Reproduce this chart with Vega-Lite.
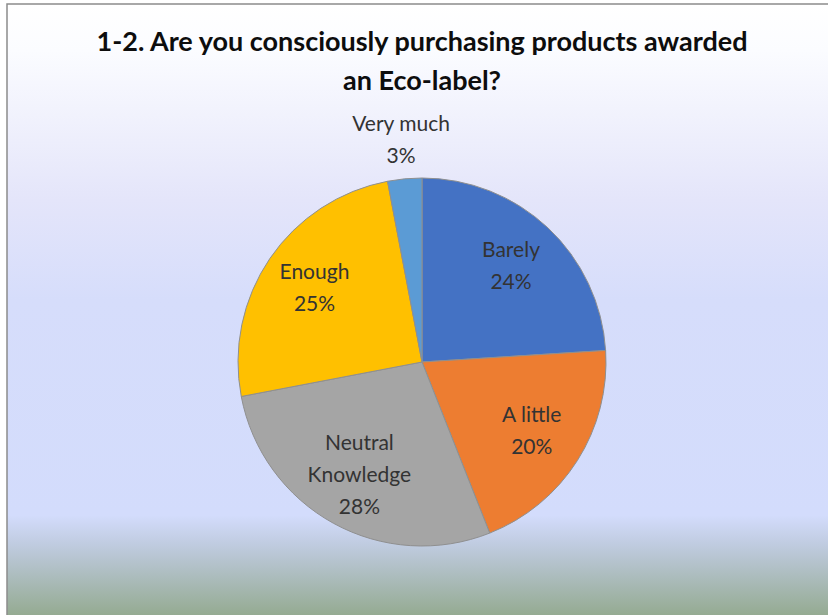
{
  "$schema": "https://vega.github.io/schema/vega-lite/v6.json",
  "autosize": "none",
  "width": 830,
  "height": 716,
  "padding": {"left": 7, "top": 4, "right": -9, "bottom": -105},
  "background": "#ffffff",
  "title": {
    "text": ["1-2. Are you consciously purchasing products awarded", "an Eco-label?"],
    "offset": -92,
    "font": "Lato",
    "fontSize": 27,
    "fontWeight": "bold",
    "color": "#0d0d0d",
    "lineHeight": 39,
    "anchor": "middle"
  },
  "view": {
    "fill": {
      "gradient": "linear",
      "x1": 0, "y1": 0, "x2": 0, "y2": 1,
      "stops": [
        {"offset": 0, "color": "#ffffff"},
        {"offset": 0.064, "color": "#fbfcff"},
        {"offset": 0.274, "color": "#e4e5fa"},
        {"offset": 0.413, "color": "#d6ddfb"},
        {"offset": 0.714, "color": "#d3dcfc"},
        {"offset": 0.756, "color": "#bfcbdf"},
        {"offset": 0.797, "color": "#adbdbf"},
        {"offset": 0.853, "color": "#95ab92"},
        {"offset": 1, "color": "#90a88c"}
      ]
    },
    "stroke": "#8c8c8c",
    "strokeWidth": 1.5
  },
  "data": {
    "values": [
      {"i": 1, "category": "Barely", "value": 24, "label": "Barely\n24%"},
      {"i": 2, "category": "A little", "value": 20, "label": "A little\n20%"},
      {"i": 3, "category": "Neutral Knowledge", "value": 28, "label": "Neutral\nKnowledge\n28%"},
      {"i": 4, "category": "Enough", "value": 25, "label": "Enough\n25%"},
      {"i": 5, "category": "Very much", "value": 3, "label": "Very much\n3%"}
    ]
  },
  "encoding": {
    "theta": {"field": "value", "type": "quantitative", "stack": true},
    "order": {"field": "i", "type": "quantitative"}
  },
  "layer": [
    {
      "mark": {"type": "arc", "outerRadius": 184, "stroke": "#8f8f8f", "strokeWidth": 1},
      "encoding": {
        "color": {
          "field": "category",
          "type": "nominal",
          "scale": {
            "domain": ["Barely", "A little", "Neutral Knowledge", "Enough", "Very much"],
            "range": ["#4472c4", "#ed7d31", "#a5a5a5", "#ffc000", "#5b9bd5"]
          },
          "legend": null
        }
      }
    },
    {
      "mark": {
        "type": "text", "font": "Lato", "fontSize": 21, "lineBreak": "\n", "lineHeight": 32,
        "fill": "#333333", "radius": 130,
        "dy": {"expr": "-(length(split(datum.label, '\\n')) - 1) * 16"}
      },
      "encoding": {
        "text": {
          "field": "label", "type": "nominal",
          "condition": {"test": "datum.category === 'Very much'", "value": ""}
        }
      }
    },
    {
      "mark": {
        "type": "text", "font": "Lato", "fontSize": 21, "lineBreak": "\n", "lineHeight": 32,
        "fill": "#333333", "radius": 222,
        "dy": {"expr": "-(length(split(datum.label, '\\n')) - 1) * 16"}
      },
      "encoding": {
        "text": {
          "field": "label", "type": "nominal",
          "condition": {"test": "datum.category !== 'Very much'", "value": ""}
        }
      }
    }
  ]
}
